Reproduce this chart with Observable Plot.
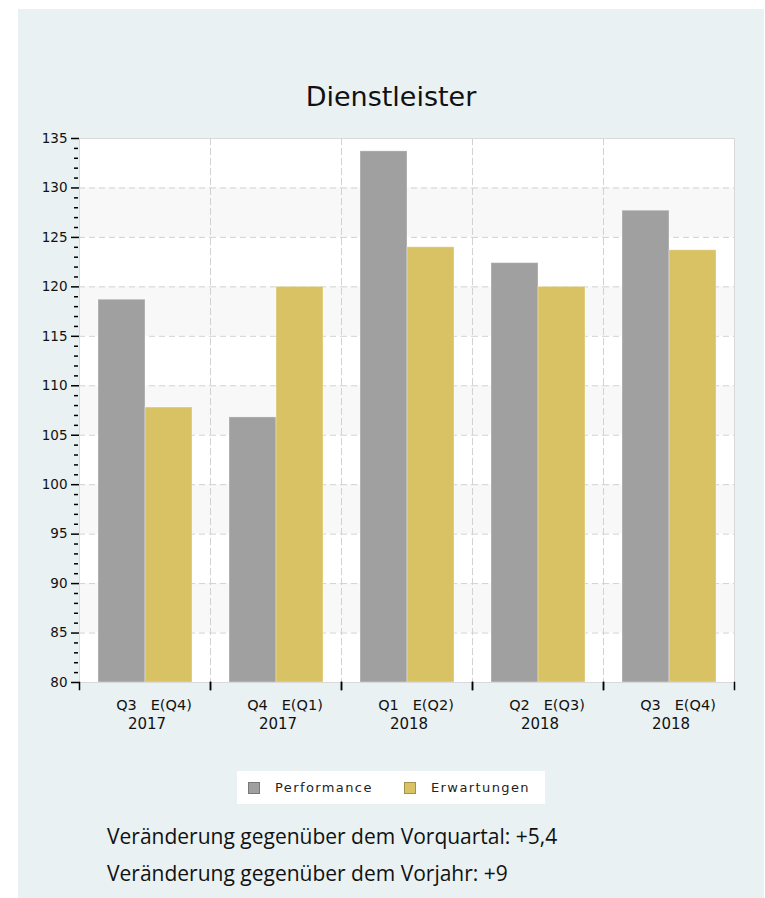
<!DOCTYPE html>
<html><head><meta charset="utf-8">
<script src="https://cdn.jsdelivr.net/npm/d3@7"></script>
<script src="https://cdn.jsdelivr.net/npm/@observablehq/plot@0.6"></script>
<style>
html,body{margin:0;padding:0;background:#fff;}
#panel{position:absolute;left:18px;top:9px;width:746px;height:889px;background:#e9f1f3;}
#title{position:absolute;left:0;width:746px;top:72px;text-align:center;font:27px "DejaVu Sans";color:#111;}
#chart{position:absolute;left:0;top:111px;}
#legend{position:absolute;left:219px;top:762px;width:308px;height:33px;background:#fff;font:13px "DejaVu Sans";letter-spacing:1.4px;color:#222;}
#legend .item{position:absolute;top:0;height:33px;line-height:33px;}
#legend .sw{position:absolute;top:11px;width:10px;height:10px;}
#legend .lb{position:absolute;left:27px;top:0;white-space:nowrap;}
.note{position:absolute;left:89px;font:21px "Open Sans";line-height:21px;color:#111;white-space:nowrap;}
</style></head>
<body>
<div id="panel">
  <div id="title"></div>
  <div id="chart"></div>
  <div id="legend"></div>
  <div class="note" id="n1" style="top:817px"></div>
  <div class="note" id="n2" style="top:854px"></div>
</div>
<script>
const title = "Dienstleister";
const quarters = ["Q3", "Q4", "Q1", "Q2", "Q3"];
const expectedQuarters = ["E(Q4)", "E(Q1)", "E(Q2)", "E(Q3)", "E(Q4)"];
const years = ["2017", "2017", "2018", "2018", "2018"];
const seriesNames = ["Performance", "Erwartungen"];
const seriesColors = ["#a0a0a0", "#d9c264"];
const performance = [118.7, 106.8, 133.7, 122.4, 127.7];
const expectations = [107.8, 120.0, 124.0, 120.0, 123.7];
const yMin = 80, yMax = 135;
const majorTicks = [80, 85, 90, 95, 100, 105, 110, 115, 120, 125, 130, 135];
const notes = ["Veränderung gegenüber dem Vorquartal: +5,4", "Veränderung gegenüber dem Vorjahr: +9"];

document.getElementById("title").textContent = title;
document.getElementById("n1").textContent = notes[0];
document.getElementById("n2").textContent = notes[1];

const keys = quarters.map((q, i) => q + " " + years[i]);
const rows = keys.flatMap((k, i) => [
  {cat: k, series: seriesNames[0], value: performance[i]},
  {cat: k, series: seriesNames[1], value: expectations[i]}
]);
const minorTicks = d3.range(yMin, yMax + 1, 1).filter(v => !majorTicks.includes(v));
const bands = majorTicks.slice(0, -1).map((v, i) => [v, majorTicks[i + 1]]).filter((b, i) => i % 2 === 1);

const W = 746, H = 622, mT = 18, mB = 60, mL = 60, mR = 30;
const plotH = H - mT - mB;
const gridStroke = "#d2d2d2", borderStroke = "#d9d9d9", dash = "6,4";
const labelIndex = new Map(keys.map((k, i) => [k, i]));

const chart = Plot.plot({
  width: W, height: H,
  marginTop: mT, marginBottom: mB, marginLeft: mL, marginRight: mR,
  style: {background: "transparent", fontFamily: "DejaVu Sans", color: "#111", overflow: "visible"},
  fx: {domain: keys, padding: 0},
  x: {domain: seriesNames, paddingInner: 0, paddingOuter: 0.39, axis: null},
  y: {domain: [yMin, yMax]},
  color: {domain: seriesNames, range: seriesColors},
  marks: [
    Plot.frame({fill: "#fff", stroke: "none"}),
    Plot.rect(bands, {y1: d => d[0], y2: d => d[1], fill: "#f8f8f8"}),
    Plot.ruleY(majorTicks.filter(v => v > yMin && v < yMax), {stroke: gridStroke, strokeDasharray: dash}),
    Plot.frame({anchor: "left", stroke: gridStroke, strokeDasharray: dash}),
    Plot.frame({anchor: "right", stroke: gridStroke, strokeDasharray: dash}),
    Plot.barY(rows, {fx: "cat", x: "series", y1: () => yMin, y2: "value", fill: "series", stroke: "#fff", strokeOpacity: 0.35}),
    Plot.frame({anchor: "top", stroke: borderStroke}),
    Plot.frame({anchor: "bottom", stroke: borderStroke}),
    Plot.frame({anchor: "left", stroke: borderStroke, fx: () => keys[0]}),
    Plot.frame({anchor: "right", stroke: borderStroke, fx: () => keys[keys.length - 1]}),
    Plot.frame({anchor: "left", stroke: "#000", strokeWidth: 1.5, insetTop: plotH, insetBottom: -7}),
    Plot.frame({anchor: "right", stroke: "#000", strokeWidth: 1.5, insetTop: plotH, insetBottom: -7}),
    Plot.axisY({ticks: majorTicks, tickSize: 8, tickPadding: 4, fontSize: 13.5, strokeWidth: 1.5, stroke: "#000", fill: "#111", label: null}),
    Plot.axisY({ticks: minorTicks, tickSize: 4, dx: -1, text: null, strokeWidth: 1.5, stroke: "#000", label: null}),
    Plot.axisFx({anchor: "bottom", tickSize: 0, tickPadding: 17, fontSize: 14.5, dx: 9, fill: "#111",
      tickFormat: k => quarters[labelIndex.get(k)] + "\u00a0\u00a0\u00a0" + expectedQuarters[labelIndex.get(k)], label: null}),
    Plot.axisFx({anchor: "bottom", tickSize: 0, tickPadding: 36, fontSize: 15, dx: 2, fill: "#111",
      tickFormat: k => years[labelIndex.get(k)], label: null})
  ]
});
document.getElementById("chart").appendChild(chart);

const legend = document.getElementById("legend");
const legendX = [11, 167];
seriesNames.forEach((s, i) => {
  const item = document.createElement("div");
  item.className = "item";
  item.style.left = legendX[i] + "px";
  const sw = document.createElement("div");
  sw.className = "sw";
  sw.style.background = seriesColors[i];
  sw.style.border = "1px solid " + d3.color(seriesColors[i]).darker(0.8);
  const lb = document.createElement("div");
  lb.className = "lb";
  lb.textContent = s;
  item.appendChild(sw); item.appendChild(lb);
  legend.appendChild(item);
});
</script>
</body></html>
